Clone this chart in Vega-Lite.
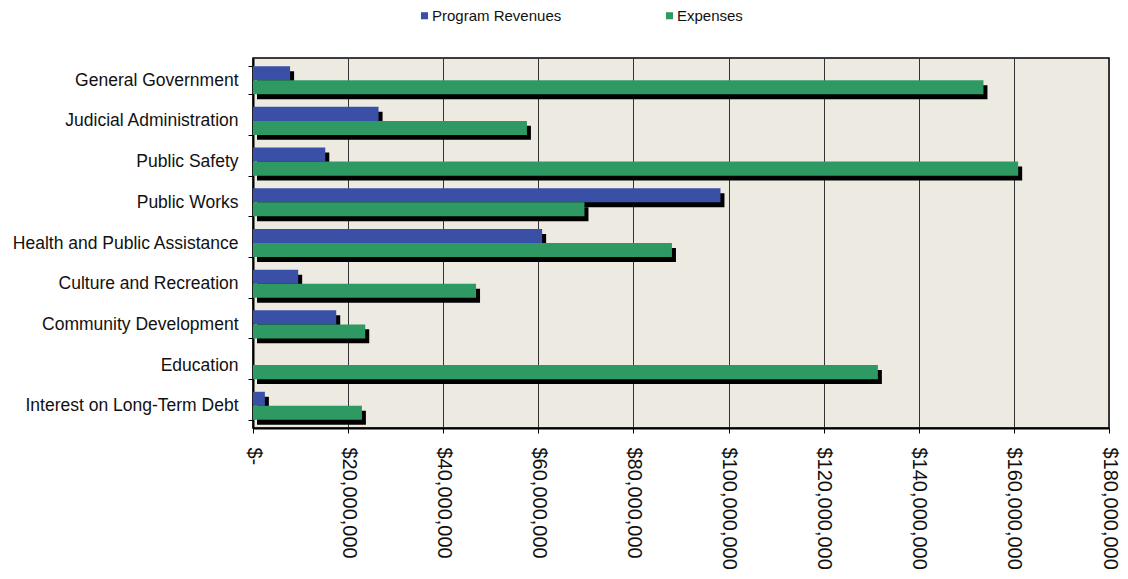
{
  "$schema": "https://vega.github.io/schema/vega-lite/v6.json",
  "autosize": {"type": "none"},
  "padding": {"left": 253, "top": 58, "right": 19, "bottom": 151},
  "width": 856,
  "height": 370,
  "background": "white",
  "config": {
    "view": {"fill": "#EDEAE1", "stroke": "black", "strokeWidth": 1.5},
    "font": "Liberation Sans"
  },
  "data": {
    "values": [
      {"category": "General Government", "series": "Program Revenues", "amount": 7800000},
      {"category": "General Government", "series": "Expenses", "amount": 153600000},
      {"category": "Judicial Administration", "series": "Program Revenues", "amount": 26400000},
      {"category": "Judicial Administration", "series": "Expenses", "amount": 57600000},
      {"category": "Public Safety", "series": "Program Revenues", "amount": 15200000},
      {"category": "Public Safety", "series": "Expenses", "amount": 160900000},
      {"category": "Public Works", "series": "Program Revenues", "amount": 98300000},
      {"category": "Public Works", "series": "Expenses", "amount": 69700000},
      {"category": "Health and Public Assistance", "series": "Program Revenues", "amount": 60800000},
      {"category": "Health and Public Assistance", "series": "Expenses", "amount": 88100000},
      {"category": "Culture and Recreation", "series": "Program Revenues", "amount": 9500000},
      {"category": "Culture and Recreation", "series": "Expenses", "amount": 46900000},
      {"category": "Community Development", "series": "Program Revenues", "amount": 17500000},
      {"category": "Community Development", "series": "Expenses", "amount": 23600000},
      {"category": "Education", "series": "Program Revenues", "amount": 0},
      {"category": "Education", "series": "Expenses", "amount": 131400000},
      {"category": "Interest on Long-Term Debt", "series": "Program Revenues", "amount": 2500000},
      {"category": "Interest on Long-Term Debt", "series": "Expenses", "amount": 22900000}
    ]
  },
  "encoding": {
    "y": {
      "field": "category",
      "type": "nominal",
      "sort": null,
      "scale": {"paddingInner": 0.31, "paddingOuter": 0.2},
      "axis": {
        "title": null,
        "tickBand": "extent",
        "tickSize": 5,
        "tickColor": "black",
        "domainColor": "black",
        "domainWidth": 2,
        "labelFontSize": 17.5,
        "labelColor": "#111",
        "labelPadding": 10,
        "labelLimit": 400
      }
    },
    "x": {
      "field": "amount",
      "type": "quantitative",
      "scale": {"domain": [0, 180000000], "nice": false},
      "axis": {
        "title": null,
        "values": [0, 20000000, 40000000, 60000000, 80000000, 100000000, 120000000, 140000000, 160000000, 180000000],
        "labelExpr": "datum.value == 0 ? '$-' : '$' + format(datum.value, ',')",
        "labelAngle": 90,
        "labelAlign": "left",
        "labelBaseline": "middle",
        "labelFontSize": 20,
        "labelColor": "#111",
        "labelPadding": 14,
        "tickSize": 5,
        "tickColor": "black",
        "domainColor": "black",
        "domainWidth": 2,
        "grid": true,
        "gridColor": "#333",
        "gridWidth": 1,
        "gridOpacity": 1
      }
    }
  },
  "resolve": {"scale": {"yOffset": "independent"}},
  "layer": [
    {
      "mark": {"type": "bar", "color": "black", "xOffset": 4, "x2Offset": 4},
      "encoding": {
        "yOffset": {
          "field": "series",
          "type": "nominal",
          "sort": ["Program Revenues", "Expenses"],
          "scale": {"range": [5, 33]}
        }
      }
    },
    {
      "mark": {"type": "bar"},
      "encoding": {
        "yOffset": {
          "field": "series",
          "type": "nominal",
          "sort": ["Program Revenues", "Expenses"]
        },
        "color": {
          "field": "series",
          "type": "nominal",
          "sort": ["Program Revenues", "Expenses"],
          "scale": {"domain": ["Program Revenues", "Expenses"], "range": ["#3A50A6", "#2F9964"]},
          "legend": {
            "title": null,
            "orient": "none",
            "legendX": 164,
            "legendY": -50,
            "direction": "horizontal",
            "symbolType": "square",
            "symbolSize": 50,
            "symbolStrokeWidth": 0,
            "labelFontSize": 15,
            "labelColor": "#111",
            "labelOffset": 0,
            "columnPadding": 100
          }
        }
      }
    }
  ]
}
